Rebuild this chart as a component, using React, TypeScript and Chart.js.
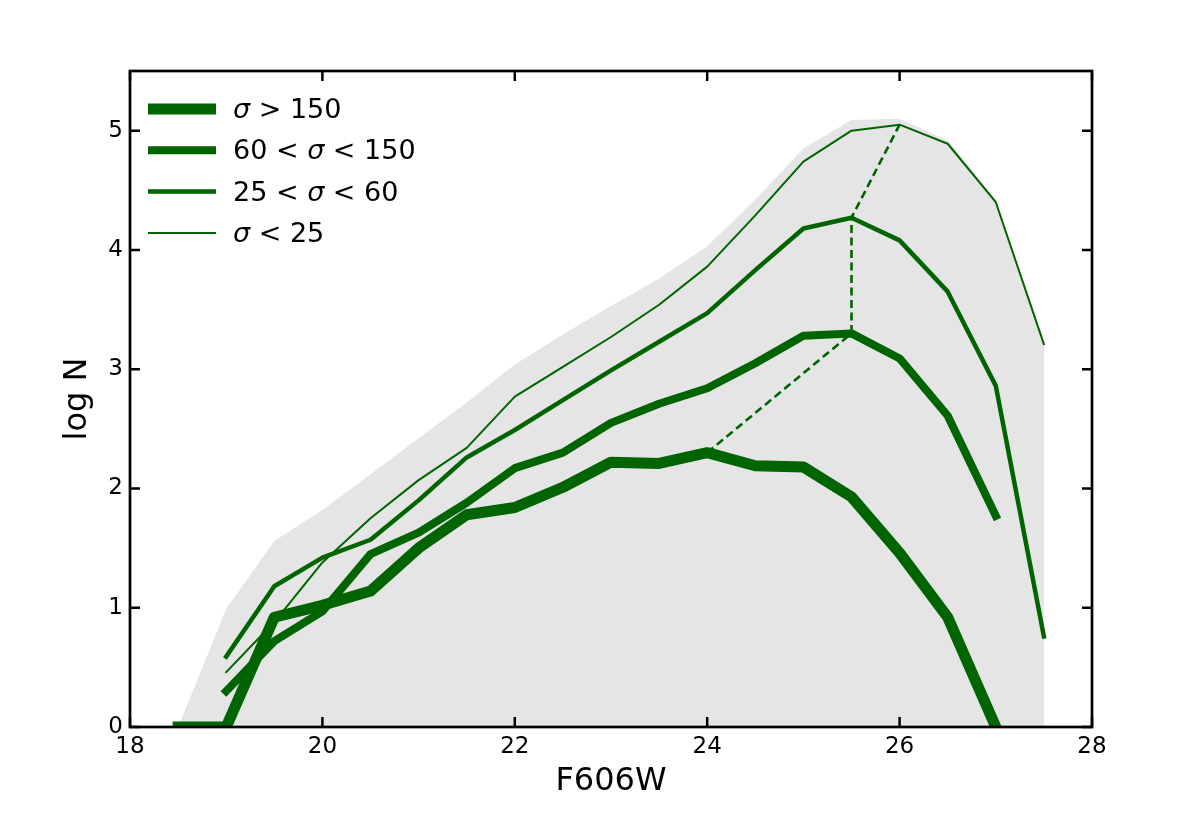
import React, { useEffect, useRef } from 'react';
import { Chart, registerables } from 'chart.js';

Chart.register(...registerables);

// ---------- data ----------
const MAGS = [18.5, 19, 19.5, 20, 20.5, 21, 21.5, 22, 22.5, 23, 23.5, 24, 24.5, 25, 25.5, 26, 26.5, 27, 27.5];

// total counts (grey envelope), 18.5 .. 27.5
const LOGN_TOTAL = [0, 0.99, 1.56, 1.82, 2.12, 2.42, 2.72, 3.04, 3.29, 3.53, 3.76, 4.03, 4.42, 4.85, 5.09, 5.10, 4.92, 4.42, 3.22];

// sigma > 150, 18.5 .. 27
const MAG_GT150 = MAGS.slice(0, 18);
const LOGN_GT150 = [0, 0, 0.92, 1.02, 1.14, 1.50, 1.78, 1.84, 2.01, 2.22, 2.21, 2.30, 2.19, 2.18, 1.93, 1.46, 0.92, 0];

// 60 < sigma < 150, 19 .. 27
const MAG_60_150 = MAGS.slice(1, 18);
const LOGN_60_150 = [0.30, 0.72, 0.97, 1.45, 1.63, 1.88, 2.17, 2.30, 2.55, 2.71, 2.84, 3.05, 3.28, 3.30, 3.09, 2.61, 1.77];

// 25 < sigma < 60, 19 .. 27.5
const MAG_25_60 = MAGS.slice(1);
const LOGN_25_60 = [0.59, 1.18, 1.42, 1.57, 1.90, 2.26, 2.49, 2.74, 2.99, 3.23, 3.47, 3.83, 4.18, 4.27, 4.08, 3.65, 2.86, 0.76];

// sigma < 25, 19 .. 27.5
const MAG_LT25 = MAGS.slice(1);
const LOGN_LT25 = [0.46, 0.88, 1.38, 1.75, 2.07, 2.34, 2.77, 3.02, 3.27, 3.54, 3.86, 4.29, 4.74, 5.00, 5.05, 4.89, 4.40, 3.21];

// peak magnitudes linking the series (dashed line)
const PEAK_MAGS = [24, 25.5, 25.5, 26];

const LABELS = ['σ > 150', '60 < σ < 150', '25 < σ < 60', 'σ < 25'];
const X_TICKS = [18, 20, 22, 24, 26, 28];
const Y_TICKS = [0, 1, 2, 3, 4, 5];

// ---------- helpers ----------
const pts = (xs: number[], ys: number[]) => xs.map((x, i) => ({ x, y: ys[i] }));
const at = (xs: number[], ys: number[], m: number) => ys[xs.indexOf(m)];

const GREEN = '#006400';
const FONT = "'DejaVu Sans', 'Liberation Sans', sans-serif";

const framePlugin = {
  id: 'frame',
  afterDraw(chart: any) {
    const { ctx, chartArea: a, scales } = chart;
    ctx.save();
    ctx.strokeStyle = '#000';
    ctx.lineWidth = 2.7;
    ctx.strokeRect(a.left, a.top, a.right - a.left, a.bottom - a.top);
    ctx.lineWidth = 2.5;
    ctx.beginPath();
    for (const t of scales.x.ticks) {
      const px = scales.x.getPixelForValue(t.value);
      ctx.moveTo(px, a.bottom);
      ctx.lineTo(px, a.bottom - 10);
      ctx.moveTo(px, a.top);
      ctx.lineTo(px, a.top + 10);
    }
    for (const t of scales.y.ticks) {
      const py = scales.y.getPixelForValue(t.value);
      ctx.moveTo(a.left, py);
      ctx.lineTo(a.left + 10, py);
      ctx.moveTo(a.right, py);
      ctx.lineTo(a.right - 10, py);
    }
    ctx.stroke();
    ctx.restore();
  },
};

const legendPlugin = {
  id: 'innerLegend',
  afterDraw(chart: any) {
    const { ctx, chartArea: a } = chart;
    const ds = chart.data.datasets.filter((d: any) => !String(d.label).startsWith('_'));
    const x0 = a.left + 18;
    const lineLen = 68;
    const textX = a.left + 103;
    const y0 = a.top + 38;
    const gap = 41.3;
    const size = 27;
    ctx.save();
    ds.forEach((d: any, i: number) => {
      const y = y0 + i * gap;
      ctx.strokeStyle = d.borderColor;
      ctx.lineWidth = d.borderWidth;
      ctx.lineCap = 'butt';
      ctx.beginPath();
      ctx.moveTo(x0, y);
      ctx.lineTo(x0 + lineLen, y);
      ctx.stroke();
      // text with italic sigma
      const parts = String(d.label).split('σ');
      let x = textX;
      ctx.fillStyle = '#000';
      ctx.textBaseline = 'middle';
      ctx.textAlign = 'left';
      parts.forEach((p: string, k: number) => {
        if (k > 0) {
          ctx.font = `italic ${size}px ${FONT}`;
          ctx.fillText('σ', x, y + 2);
          x += ctx.measureText('σ').width;
        }
        ctx.font = `${size}px ${FONT}`;
        ctx.fillText(p, x, y + 2);
        x += ctx.measureText(p).width;
      });
    });
    ctx.restore();
  },
};

export default function App() {
  const ref = useRef<HTMLCanvasElement | null>(null);

  useEffect(() => {
    if (!ref.current) return;
    const common = {
      showLine: true,
      pointRadius: 0,
      pointHoverRadius: 0,
      borderColor: GREEN,
      borderCapStyle: 'square' as const,
      borderJoinStyle: 'round' as const,
      tension: 0,
      clip: 0,
      fill: false,
    };
    const links = PEAK_MAGS.map((m, i) => {
      const series = [
        [MAG_GT150, LOGN_GT150],
        [MAG_60_150, LOGN_60_150],
        [MAG_25_60, LOGN_25_60],
        [MAG_LT25, LOGN_LT25],
      ][i];
      return { x: m, y: at(series[0], series[1], m) };
    });

    const chart = new Chart(ref.current, {
      type: 'scatter',
      data: {
        datasets: [
          { ...common, label: LABELS[0], data: pts(MAG_GT150, LOGN_GT150), borderWidth: 11 },
          { ...common, label: LABELS[1], data: pts(MAG_60_150, LOGN_60_150), borderWidth: 8 },
          { ...common, label: LABELS[2], data: pts(MAG_25_60, LOGN_25_60), borderWidth: 4.5 },
          { ...common, label: LABELS[3], data: pts(MAG_LT25, LOGN_LT25), borderWidth: 2 },
          { ...common, label: '_links', data: links, borderWidth: 2.6, borderDash: [8, 4.5], borderCapStyle: 'butt' },
          {
            ...common,
            label: '_total',
            data: pts(MAGS, LOGN_TOTAL),
            borderWidth: 0,
            borderColor: 'rgba(0,0,0,0)',
            backgroundColor: '#e5e5e5',
            fill: 'origin',
          },
        ] as any,
      },
      options: {
        responsive: false,
        animation: false,
        devicePixelRatio: 1,
        events: [],
        layout: { padding: { top: 71, right: 104, left: 0, bottom: 0 } },
        plugins: { legend: { display: false }, tooltip: { enabled: false } },
        scales: {
          x: {
            type: 'linear',
            min: 18,
            max: 28,
            afterBuildTicks: (s: any) => {
              s.ticks = X_TICKS.map((v) => ({ value: v }));
            },
            ticks: { autoSkip: false, font: { family: FONT, size: 23 }, color: '#000', padding: 6, maxRotation: 0 },
            grid: { display: false, drawTicks: false },
            border: { display: false },
            title: {
              display: true,
              text: 'F606W',
              color: '#000',
              font: { family: FONT, size: 32 },
              padding: { top: 0, bottom: 22 },
            },
            afterFit: (s: any) => {
              s.height = 96;
            },
          },
          y: {
            type: 'linear',
            min: 0,
            max: 5.5,
            afterBuildTicks: (s: any) => {
              s.ticks = Y_TICKS.map((v) => ({ value: v }));
            },
            ticks: { autoSkip: false, font: { family: FONT, size: 23 }, color: '#000', padding: 7 },
            grid: { display: false, drawTicks: false },
            border: { display: false },
            title: {
              display: true,
              text: 'log N',
              color: '#000',
              font: { family: FONT, size: 32 },
              padding: { top: 58, bottom: 0 },
            },
            afterFit: (s: any) => {
              s.width = 130;
            },
          },
        },
      } as any,
      plugins: [framePlugin, legendPlugin],
    });
    return () => chart.destroy();
  }, []);

  return (
    <div style={{ position: 'absolute', left: 0, top: 0, width: 1196, height: 823, background: '#fff' }}>
      <canvas ref={ref} width={1196} height={823} style={{ display: 'block' }} />
    </div>
  );
}
